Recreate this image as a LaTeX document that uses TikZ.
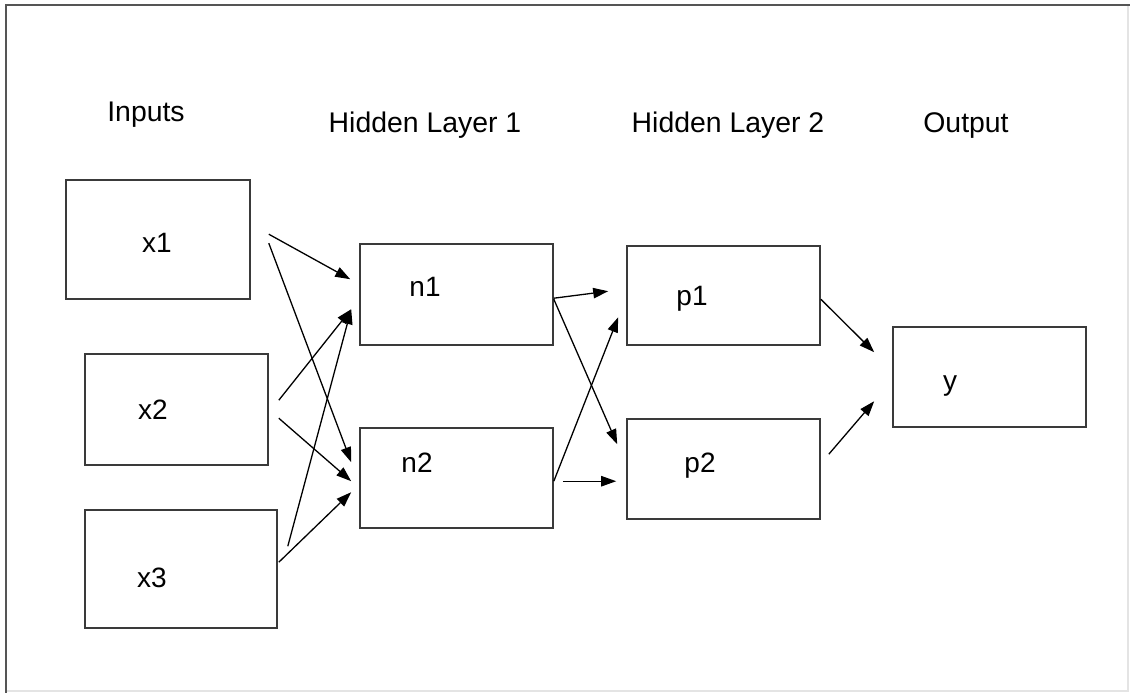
\documentclass[tikz,border=0pt]{standalone}
\usepackage{fontspec}
\setmainfont{Liberation Sans}
\usetikzlibrary{arrows.meta}
\definecolor{boxgray}{HTML}{3A3A3A}
\definecolor{framedark}{HTML}{555555}
\definecolor{framelight}{HTML}{E4E4E4}
\begin{document}
\begin{tikzpicture}[x=0.5pt,y=-0.5pt,
  box/.style={draw=boxgray, line width=0.8pt, inner sep=0pt},
  head/.style={font=\fontsize{14.2}{16}\selectfont, anchor=base, inner sep=0pt},
  lbl/.style={font=\fontsize{14}{16}\selectfont, anchor=base, inner sep=0pt},
  arr/.style={line width=0.65pt, -{Triangle[length=7.5pt,width=5.2pt]}}]
\useasboundingbox (0,0) rectangle (1130,693);

% outer frame
\draw[framelight, line width=0.6pt] (1128,5) -- (1128,691) -- (6,691);
\draw[framedark, line width=1pt] (1130,5) -- (6,5) -- (6,693);

% column headings
\node[head] (hin)  at (146,121) {Inputs};
\node[head] (hh1)  at (425,132) {Hidden Layer 1};
\node[head] (hh2)  at (728,132) {Hidden Layer 2};
\node[head] (hout) at (966,132) {Output};

% boxes
\node[box, minimum width=92pt,   minimum height=59.5pt] (x1) at (158,239.5) {};
\node[box, minimum width=91.5pt, minimum height=55.5pt] (x2) at (176.5,409.5) {};
\node[box, minimum width=96pt,   minimum height=59pt]   (x3) at (181,569) {};
\node[box, minimum width=96.5pt, minimum height=50.5pt] (n1) at (456.5,294.5) {};
\node[box, minimum width=96.5pt, minimum height=50pt]   (n2) at (456.5,478) {};
\node[box, minimum width=96.5pt, minimum height=49.5pt] (p1) at (723.5,295.5) {};
\node[box, minimum width=96.5pt, minimum height=50pt]   (p2) at (723.5,469) {};
\node[box, minimum width=96.5pt, minimum height=50pt]   (y)  at (989.5,377) {};

% box labels
\node[lbl] (tx1) at (157,252) {x1};
\node[lbl] (tx2) at (153,419) {x2};
\node[lbl] (tx3) at (152,587) {x3};
\node[lbl] (tn1) at (425,296) {n1};
\node[lbl] (tn2) at (417,472) {n2};
\node[lbl] (tp1) at (692,305) {p1};
\node[lbl] (tp2) at (700,472) {p2};
\node[lbl] (ty)  at (950,390) {y};

% inputs to hidden layer 1
\draw[arr] ([shift={(18,55)}]x1.north east) -- ([shift={(-9,36)}]n1.north west);
\draw[arr] ([shift={(18,64)}]x1.north east) -- ([shift={(-8,35)}]n2.north west);
\draw[arr] ([shift={(10,47)}]x2.north east) -- ([shift={(-8,66)}]n1.north west);
\draw[arr] ([shift={(10,65)}]x2.north east) -- ([shift={(-8,54)}]n2.north west);
\draw[arr] ([shift={(10,37)}]x3.north east) -- ([shift={(-8,66)}]n1.north west);
\draw[arr] ([shift={(1,53)}]x3.north east)  -- ([shift={(-8,65)}]n2.north west);

% hidden layer 1 to hidden layer 2
\draw[arr] ([shift={(0,55)}]n1.north east) -- ([shift={(-18,46)}]p1.north west);
\draw[arr] ([shift={(0,56)}]n1.north east) -- ([shift={(-9,26)}]p2.north west);
\draw[arr] ([shift={(0,54)}]n2.north east) -- ([shift={(-8,72)}]p1.north west);
\draw[arr] ([shift={(9,54)}]n2.north east) -- ([shift={(-10,63)}]p2.north west);

% hidden layer 2 to output
\draw[arr] ([shift={(0,54)}]p1.north east) -- ([shift={(-18,26)}]y.north west);
\draw[arr] ([shift={(8,36)}]p2.north east) -- ([shift={(-18,75)}]y.north west);
\end{tikzpicture}
\end{document}
